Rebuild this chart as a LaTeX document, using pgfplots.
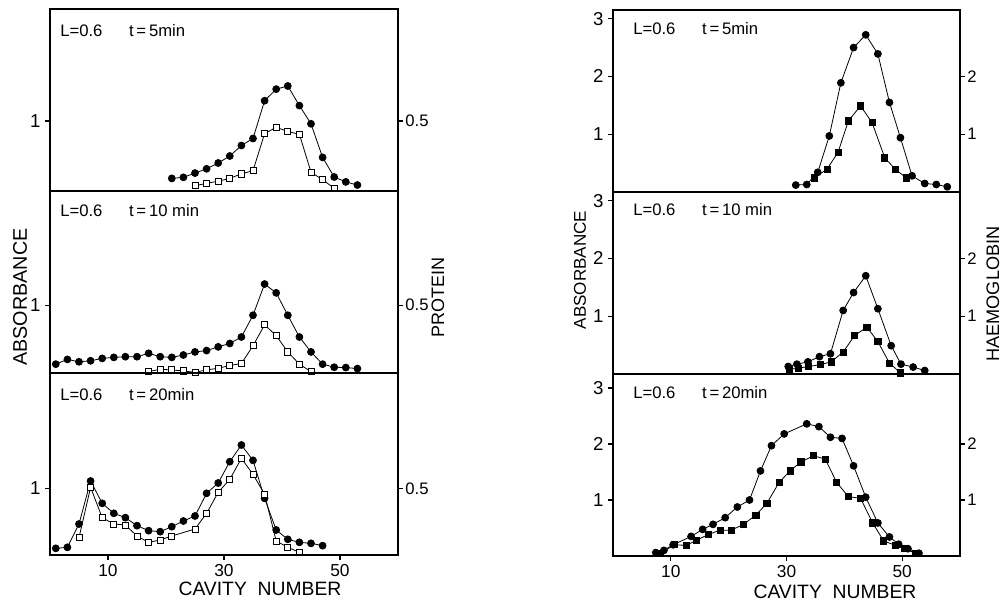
\documentclass[border=0pt]{standalone}
\usepackage{fontspec}
\setmainfont{Liberation Sans}
\usepackage{pgfplots}
\pgfplotsset{compat=1.18}
\pgfplotsset{
 panel/.style={scale only axis, height=136.5pt, anchor=south west,
   xmin=0, xmax=60, ymin=0,
   axis line style={line width=0.9pt},
   tick style={line width=0.8pt, black},
   tick align=outside, major tick length=3.5pt,
   ytick pos=left, xtick pos=bottom, xtick=\empty,
   yticklabel style={font=\fontsize{14}{16}\selectfont},
   xticklabel style={font=\fontsize{13}{15}\selectfont},
   /pgf/number format/assume math mode=true},
 ovl/.style={scale only axis, height=136.5pt, anchor=south west,
   xmin=0, xmax=60, ymin=0,
   axis line style={line width=0.9pt},
   tick style={line width=0.8pt, black},
   tick align=outside, major tick length=3.5pt,
   ytick pos=right, yticklabel pos=right, xtick=\empty,
   yticklabel style={font=\fontsize{12.5}{14}\selectfont, xshift=-1.5pt},
   /pgf/number format/assume math mode=true},
 fc/.style={black, line width=0.6pt, mark=*, mark size=2.6pt, mark options={solid, fill=black}},
 os/.style={black, line width=0.6pt, mark=square*, mark size=2.3pt, mark options={solid, fill=white}},
 fs/.style={black, line width=0.6pt, mark=square*, mark size=2.3pt, mark options={solid, fill=black}},
}
\newcommand{\ann}{\fontsize{12.5}{14}\selectfont}
\begin{document}
\begin{tikzpicture}
\useasboundingbox (0,0) rectangle (756pt,452.25pt);
% ---------------- LEFT: top (t=5) ----------------
\begin{axis}[panel, width=261pt, at={(37.5pt,309pt)}, ymax=2.6, ytick={1}]
\addplot[fc] coordinates {(21,0.18)(23,0.195)(25,0.256)(27,0.317)(29,0.40)(31,0.50)(33,0.65)(35,0.75)(37,1.29)(39,1.455)(41,1.50)(43,1.22)(45,0.96)(47,0.48)(49,0.20)(51,0.13)(53,0.085)};
\addplot[os] coordinates {(25,0.075)(27,0.11)(29,0.14)(31,0.18)(33,0.245)(35,0.29)(37,0.82)(39,0.91)(41,0.85)(43,0.81)(45,0.27)(47,0.16)(49,0.04)};
\node[anchor=west, inner sep=0pt] at ([xshift=7.5pt,yshift=-16pt]rel axis cs:0,1) {\ann L=0.6\hspace{1.6em}t\,=\,5min};
\end{axis}
\begin{axis}[ovl, width=261pt, at={(37.5pt,309pt)}, ymax=1.3, ytick={0.5}, yticklabels={0.5}]
\end{axis}
% ---------------- LEFT: middle (t=10) ----------------
\begin{axis}[panel, width=261pt, at={(37.5pt,172.5pt)}, ymax=2.68, ytick={1}]
\addplot[fc] coordinates {(1,0.13)(3,0.20)(5,0.165)(7,0.18)(9,0.215)(11,0.23)(13,0.24)(15,0.24)(17,0.29)(19,0.24)(21,0.23)(23,0.265)(25,0.31)(27,0.33)(29,0.385)(31,0.435)(33,0.53)(35,0.85)(37,1.31)(39,1.18)(41,0.85)(43,0.53)(45,0.31)(47,0.13)(49,0.085)(51,0.08)(53,0.065)};
\addplot[os] coordinates {(17,0.02)(19,0.055)(21,0.045)(23,0.03)(25,0.01)(27,0.045)(29,0.07)(31,0.11)(33,0.14)(35,0.40)(37,0.71)(39,0.55)(41,0.31)(43,0.13)(45,0.02)};
\node[anchor=west, inner sep=0pt] at ([xshift=7.5pt,yshift=-15pt]rel axis cs:0,1) {\ann L=0.6\hspace{1.6em}t\,=\,10 min};
\end{axis}
\begin{axis}[ovl, width=261pt, at={(37.5pt,172.5pt)}, ymax=1.34, ytick={0.5}, yticklabels={0.5}]
\end{axis}
% ---------------- LEFT: bottom (t=20) ----------------
\begin{axis}[panel, width=261pt, at={(37.5pt,36pt)}, ymax=2.73, ytick={1}, xtick={10,30,50}]
\addplot[fc] coordinates {(1,0.10)(3,0.115)(5,0.465)(7,1.11)(9,0.775)(11,0.625)(13,0.56)(15,0.44)(17,0.365)(19,0.35)(21,0.425)(23,0.51)(25,0.585)(27,0.925)(29,1.08)(31,1.40)(33,1.65)(35,1.42)(37,0.85)(39,0.375)(41,0.235)(43,0.19)(45,0.175)(47,0.14)};
\addplot[os] coordinates {(5,0.26)(7,1.015)(9,0.56)(11,0.465)(13,0.45)(15,0.285)(17,0.19)(19,0.225)(21,0.285)(25,0.39)(27,0.625)(29,0.94)(31,1.135)(33,1.45)(35,1.21)(37,0.91)(39,0.21)(41,0.115)(43,0.04)};
\node[anchor=west, inner sep=0pt] at ([xshift=7.5pt,yshift=-16pt]rel axis cs:0,1) {\ann L=0.6\hspace{1.6em}t\,=\,20min};
\end{axis}
\begin{axis}[ovl, width=261pt, at={(37.5pt,36pt)}, ymax=1.365, ytick={0.5}, yticklabels={0.5}]
\end{axis}
% ---------------- RIGHT: top (t=5) ----------------
\begin{axis}[panel, width=260.25pt, at={(459.75pt,308.25pt)}, ymax=3.15, ytick={1,2,3}]
\addplot[fc] coordinates {(31.6,0.12)(33.5,0.13)(35.4,0.34)(37.4,0.97)(39.4,1.89)(41.6,2.50)(43.7,2.72)(45.8,2.39)(47.8,1.55)(49.7,0.94)(51.7,0.28)(53.9,0.147)(55.9,0.13)(57.8,0.09)};
\addplot[fs] coordinates {(34.8,0.245)(37,0.395)(38.9,0.685)(40.7,1.23)(42.8,1.49)(44.8,1.20)(47,0.59)(48.8,0.395)(50.7,0.245)};
\node[anchor=west, inner sep=0pt] at ([xshift=15pt,yshift=-14pt]rel axis cs:0,1) {\ann L=0.6\hspace{1.6em}t\,=\,5min};
\end{axis}
\begin{axis}[ovl, width=260.25pt, at={(459.75pt,308.25pt)}, ymax=3.15, ytick={1,2}]
\end{axis}
% ---------------- RIGHT: middle (t=10) ----------------
\begin{axis}[panel, width=260.25pt, at={(459.75pt,171.75pt)}, ymax=3.15, ytick={1,2,3}]
\addplot[fc] coordinates {(30.3,0.13)(31.8,0.17)(33.7,0.21)(35.7,0.30)(37.6,0.35)(39.8,1.10)(41.6,1.41)(43.7,1.70)(45.8,1.13)(48.1,0.49)(49.8,0.17)(51.9,0.12)(53.9,0.06)};
\addplot[fs] coordinates {(30.5,0.08)(32,0.10)(33.8,0.13)(35.8,0.16)(37.7,0.21)(39.8,0.38)(41.8,0.67)(43.9,0.81)(45.8,0.56)(47.8,0.19)(49.7,0.02)};
\node[anchor=west, inner sep=0pt] at ([xshift=15pt,yshift=-13pt]rel axis cs:0,1) {\ann L=0.6\hspace{1.6em}t\,=\,10 min};
\end{axis}
\begin{axis}[ovl, width=260.25pt, at={(459.75pt,171.75pt)}, ymax=3.15, ytick={1,2}]
\end{axis}
% ---------------- RIGHT: bottom (t=20) ----------------
\begin{axis}[panel, width=260.25pt, at={(459.75pt,35.25pt)}, ymax=3.25, ytick={1,2,3}, xtick={10,30,50}]
\addplot[fc] coordinates {(7.4,0.06)(8.8,0.10)(10.4,0.20)(13.5,0.35)(15.5,0.475)(17.3,0.565)(19.4,0.685)(21.5,0.875)(23.6,1.0)(25.5,1.52)(27.4,1.97)(29.6,2.18)(33.5,2.36)(35.6,2.31)(37.6,2.12)(39.6,2.10)(41.6,1.61)(43.7,1.05)(45.8,0.59)(47.8,0.34)(49.4,0.21)(51,0.13)(52.9,0.05)};
\addplot[fs] coordinates {(8.1,0.04)(10.6,0.20)(12.7,0.19)(14.4,0.28)(16.5,0.385)(18.5,0.46)(20.4,0.46)(22.5,0.56)(24.7,0.73)(26.6,0.94)(28.7,1.31)(30.6,1.52)(32.5,1.68)(34.7,1.79)(36.7,1.73)(38.7,1.31)(40.7,1.06)(42.8,1.03)(44.9,0.59)(46.8,0.27)(48.8,0.19)(50.4,0.13)(52.3,0.05)};
\node[anchor=west, inner sep=0pt] at ([xshift=15pt,yshift=-14pt]rel axis cs:0,1) {\ann L=0.6\hspace{1.6em}t\,=\,20min};
\end{axis}
\begin{axis}[ovl, width=260.25pt, at={(459.75pt,35.25pt)}, ymax=3.25, ytick={1,2}]
\end{axis}
% ---------------- axis titles ----------------
\node[rotate=90, font=\fontsize{14.8}{16}\selectfont] at (15pt,229.5pt) {ABSORBANCE};
\node[rotate=90, font=\fontsize{13.5}{15}\selectfont] at (328.5pt,228.75pt) {PROTEIN};
\node[rotate=90, font=\fontsize{12.8}{14}\selectfont] at (435pt,249.75pt) {ABSORBANCE};
\node[rotate=90, font=\fontsize{13.6}{15}\selectfont] at (744.75pt,231.75pt) {HAEMOGLOBIN};
\node[font=\fontsize{14.5}{16}\selectfont] at (195pt,10.5pt) {CAVITY\ \ NUMBER};
\node[font=\fontsize{14.5}{16}\selectfont] at (626.25pt,8.5pt) {CAVITY\ \ NUMBER};
\end{tikzpicture}
\end{document}
